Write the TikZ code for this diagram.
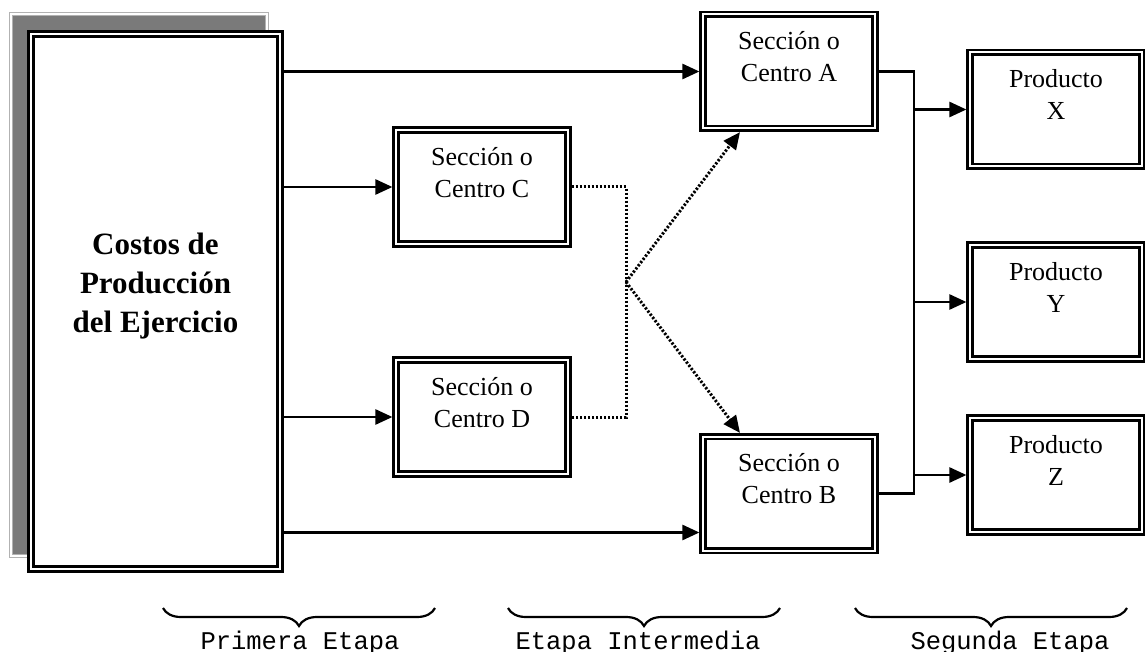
\documentclass[tikz,border=0pt]{standalone}
\usepackage{fontspec}
\setmainfont{Liberation Serif}
\newfontfamily\etapafont{Liberation Mono}
\usetikzlibrary{arrows.meta, decorations.pathreplacing}

\begin{document}
\begin{tikzpicture}[
   x = 1pt, y = -1pt,
   line width = 2.6pt,
   -{Triangle[length=17pt, width=15pt]},
   caja/.style = {draw, fill=white, double, double distance=2pt, line width=2.6pt,
      outer sep=3.6pt, inner sep=0pt, align=center,
      minimum width=172pt, minimum height=114pt,
      font=\fontsize{26}{32}\selectfont, text depth=30pt},
   grande/.style = {caja, minimum width=249pt, minimum height=535pt,
      font=\fontsize{31}{39}\selectfont\bfseries, text depth=38pt},
   sombra/.style = {-, draw=black!30, double=white, double distance=1.2pt,
      line width=1.2pt, fill=black!52},
   punteado/.style = {line width=3pt, dash pattern=on 2.2pt off 1.8pt},
   llave/.style = {-, line width=2.2pt, decorate, decoration={brace, amplitude=18pt}},
   etapa/.style = {anchor=base, font=\fontsize{25.5}{30}\etapafont}]
   \useasboundingbox (0,0) rectangle (1145,652);

   \draw[sombra] (11,14) rectangle (267,556);
   \node[grande] (costos) at (155.5,301.5) {Costos de\\Producción\\del Ejercicio};

   \node[caja] (C) at (482,187) {Sección o\\Centro C};
   \node[caja] (D) at (482,417) {Sección o\\Centro D};
   \node[caja] (A) at (789,71.5) {Sección o\\Centro A};
   \node[caja] (B) at (789,493.5) {Sección o\\Centro B};

   \node[caja] (X) at (1056,109.5) {Producto\\X};
   \node[caja] (Y) at (1056,302) {Producto\\Y};
   \node[caja] (Z) at (1056,475) {Producto\\Z};

   % primera etapa
   \coordinate (entB) at ([yshift=-39pt]B.west);
   \draw (costos.east |- A.west) -- (A.west);
   \draw (costos.east |- C.west) -- (C.west);
   \draw (costos.east |- D.west) -- (D.west);
   \draw (costos.east |- entB) -- (entB);

   % etapa intermedia
   \coordinate (cruce) at (626,282);
   \draw[-, punteado] (C.east) -- (C.east -| cruce) -- (D.east -| cruce) -- (D.east);
   \draw[punteado] (cruce) -- ([xshift=-49pt]A.south);
   \draw[punteado] (cruce) -- ([xshift=-49pt]B.north);

   % segunda etapa
   \coordinate (bus) at (914,0);
   \draw[-] (A.east) -- (A.east -| bus) -- (B.east -| bus) -- (B.east);
   \draw (X.west -| bus) -- (X.west);
   \draw (Y.west -| bus) -- (Y.west);
   \draw (Z.west -| bus) -- (Z.west);

   \draw[llave] (435,608) -- (163,608);
   \draw[llave] (780,608) -- (508,608);
   \draw[llave] (1127,608) -- (855,608);
   \node[etapa] (primera) at (300,649) {Primera Etapa};
   \node[etapa] (intermedia) at (638,649) {Etapa Intermedia};
   \node[etapa] (segunda) at (1010,649) {Segunda Etapa};
\end{tikzpicture}
\end{document}
